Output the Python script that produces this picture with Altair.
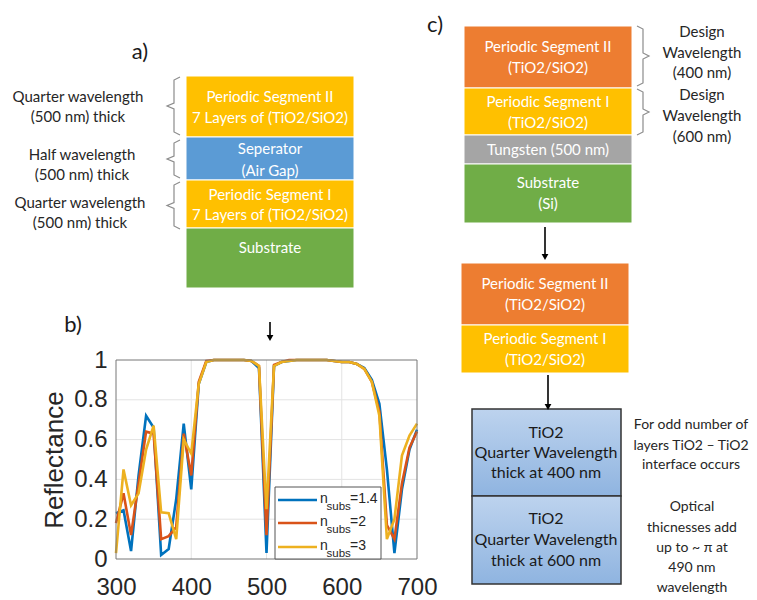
import altair as alt
import pandas as pd

# ---------------- data ----------------
wavelength = [300, 310, 320, 330, 340, 350, 360, 370, 380, 390, 400,
              410, 420, 430, 440, 450, 460, 470, 480, 490, 500,
              510, 520, 530, 540, 550, 560, 570, 580, 590, 600,
              610, 620, 630, 640, 650, 660, 670, 680, 690, 700]
r_n14 = [0.23, 0.245, 0.04, 0.42, 0.72, 0.66, 0.02, 0.05, 0.30, 0.68, 0.35,
         0.88, 0.99, 1.0, 1.0, 1.0, 1.0, 1.0, 0.995, 0.96, 0.03,
         0.97, 0.99, 0.995, 1.0, 1.0, 1.0, 1.0, 1.0, 0.995, 0.99,
         0.99, 0.98, 0.96, 0.90, 0.78, 0.45, 0.03, 0.35, 0.55, 0.65]
r_n2 = [0.18, 0.33, 0.12, 0.38, 0.64, 0.63, 0.10, 0.115, 0.16, 0.63, 0.42,
        0.89, 0.995, 1.0, 1.0, 1.0, 1.0, 1.0, 0.995, 0.97, 0.12,
        0.975, 0.99, 1.0, 1.0, 1.0, 1.0, 1.0, 1.0, 0.995, 0.99,
        0.99, 0.98, 0.955, 0.89, 0.74, 0.17, 0.10, 0.38, 0.56, 0.64]
r_n3 = [0.03, 0.45, 0.27, 0.33, 0.55, 0.67, 0.235, 0.23, 0.10, 0.60, 0.53,
        0.88, 0.99, 1.0, 1.0, 1.0, 1.0, 1.0, 0.995, 0.97, 0.25,
        0.97, 0.99, 0.995, 1.0, 1.0, 1.0, 1.0, 1.0, 0.995, 0.99,
        0.99, 0.98, 0.955, 0.89, 0.72, 0.10, 0.20, 0.52, 0.62, 0.68]
series_names = ["1.4", "2", "3"]
series_values = [r_n14, r_n2, r_n3]
series_colors = ["#0072BD", "#D95319", "#EDB120"]
x_ticks = [300, 400, 500, 600, 700]
y_ticks = [0, 0.2, 0.4, 0.6, 0.8, 1]
x_grid = [400, 500, 600]
y_grid = [0.2, 0.4, 0.6, 0.8]

# ---------------- layout (reference pixel coordinates) ----------------
W, H = 741, 592
CX = alt.Scale(domain=[8, 8 + W], range=[0, W], nice=False, zero=False)
CY = alt.Scale(domain=[8, 8 + H], range=[0, H], nice=False, zero=False)
PX = alt.Scale(domain=[300, 700], range=[108, 409], nice=False, zero=False)
PY = alt.Scale(domain=[0, 1], range=[551, 352], nice=False, zero=False)

BOXFONT = "Lato"
PLOTFONT = "Liberation Sans"

boxes = pd.DataFrame([
    (186, 354, 76, 137, "#FFC000"), (186, 354, 137, 180, "#5B9BD5"),
    (186, 354, 180, 228, "#FFC000"), (186, 354, 228, 288, "#70AD47"),
    (464, 632, 26, 88, "#ED7D31"), (464, 632, 88, 135, "#FFC000"),
    (464, 632, 135, 164, "#A5A5A5"), (464, 632, 164, 223, "#70AD47"),
    (461, 629, 263, 325, "#ED7D31"), (461, 629, 325, 373, "#FFC000"),
], columns=["x", "x2", "y", "y2", "fill"])

blue_boxes = pd.DataFrame([(472, 621, 409, 496), (472, 621, 496, 584)],
                          columns=["x", "x2", "y", "y2"])

white_text = pd.DataFrame([
    ("Periodic Segment II", 270, 97), ("7 Layers of (TiO2/SiO2)", 270, 118),
    ("Seperator", 270, 149), ("(Air Gap)", 270, 171),
    ("Periodic Segment I", 270, 195), ("7 Layers of (TiO2/SiO2)", 270, 215),
    ("Substrate", 270, 248),
    ("Periodic Segment II", 548, 47), ("(TiO2/SiO2)", 548, 68),
    ("Periodic Segment I", 548, 102), ("(TiO2/SiO2)", 548, 123),
    ("Tungsten (500 nm)", 548, 150), ("Substrate", 548, 183), ("(Si)", 548, 204),
    ("Periodic Segment II", 545, 284), ("(TiO2/SiO2)", 545, 305),
    ("Periodic Segment I", 545, 339), ("(TiO2/SiO2)", 545, 360),
], columns=["t", "x", "y"])

dark_text = pd.DataFrame([
    ("Quarter wavelength", 78, 97), ("(500 nm) thick", 78, 117),
    ("Half wavelength", 82, 155), ("(500 nm) thick", 82, 175),
    ("Quarter wavelength", 80, 203), ("(500 nm) thick", 80, 223),
    ("Design", 702, 32), ("Wavelength", 702, 53), ("(400 nm)", 702, 73),
    ("Design", 702, 95), ("Wavelength", 702, 116), ("(600 nm)", 702, 137),
], columns=["t", "x", "y"])

note_text = pd.DataFrame([
    ("For odd number of", 691, 425), ("layers TiO2 \u2013 TiO2", 691, 446),
    ("interface occurs", 691, 465), ("Optical", 692, 507),
    ("thicnesses add", 692, 528), ("up to ~ \u03c0 at", 692, 548),
    ("490 nm", 692, 568), ("wavelength", 692, 588),
], columns=["t", "x", "y"])

blue_text = pd.DataFrame([
    ("TiO2", 546, 433), ("Quarter Wavelength", 546, 453), ("thick at 400 nm", 546, 473),
    ("TiO2", 546, 519), ("Quarter Wavelength", 546, 540), ("thick at 600 nm", 546, 561),
], columns=["t", "x", "y"])

panel_labels = pd.DataFrame([("a)", 140, 52), ("b)", 73, 325), ("c)", 435, 25)],
                            columns=["t", "x", "y"])

# braces: (x_open, x_spine, x_tip, top, bottom)
brace_specs = [
    (180, 174, 167, 77, 135), (180, 174, 167, 140, 178), (180, 174, 167, 182, 229),
    (637, 643, 649, 26, 86), (637, 643, 649, 89, 135),
]
brace_rows = []
for i, (xo, xs, xt, top, bot) in enumerate(brace_specs):
    mid = (top + bot) / 2
    pts = [(xo, top), (xs, top + 3), (xs, mid - 3), (xt, mid),
           (xs, mid + 3), (xs, bot - 3), (xo, bot)]
    for k, (px_, py_) in enumerate(pts):
        brace_rows.append({"b": i, "k": k, "x": px_, "y": py_})
braces = pd.DataFrame(brace_rows)

arrows = pd.DataFrame([(270, 322, 338), (545, 227, 257), (548, 375, 407)],
                      columns=["x", "y", "y2"])


def cx(field="x"):
    return alt.X(f"{field}:Q", scale=CX, axis=None)


def cy(field="y"):
    return alt.Y(f"{field}:Q", scale=CY, axis=None)


rects = alt.Chart(boxes).mark_rect(stroke="white", strokeWidth=1).encode(
    x=cx(), x2="x2", y=cy(), y2="y2", color=alt.Color("fill:N", scale=None))

grad = alt.Gradient(gradient="linear",
                    stops=[alt.GradientStop(color="#bdd3ee", offset=0),
                           alt.GradientStop(color="#8fb4e0", offset=1)],
                    x1=0, x2=0, y1=0, y2=1)
blue_rects = alt.Chart(blue_boxes).mark_rect(fill=grad, stroke="#333333", strokeWidth=1.5).encode(
    x=cx(), x2="x2", y=cy(), y2="y2")

t_white = alt.Chart(white_text).mark_text(font=BOXFONT, fontSize=15, color="white",
                                          baseline="middle", align="center").encode(
    x=cx(), y=cy(), text="t:N")
t_dark = alt.Chart(dark_text).mark_text(font=BOXFONT, fontSize=15, color="#262626",
                                        baseline="middle", align="center").encode(
    x=cx(), y=cy(), text="t:N")
t_note = alt.Chart(note_text).mark_text(font=BOXFONT, fontSize=14, color="#262626",
                                        baseline="middle", align="center").encode(
    x=cx(), y=cy(), text="t:N")
t_blue = alt.Chart(blue_text).mark_text(font=BOXFONT, fontSize=16, color="#1a1a1a",
                                        baseline="middle", align="center").encode(
    x=cx(), y=cy(), text="t:N")
t_panel = alt.Chart(panel_labels).mark_text(font=BOXFONT, fontSize=22, color="#1a1a1a",
                                            baseline="middle", align="center").encode(
    x=cx(), y=cy(), text="t:N")

brace_lines = alt.Chart(braces).mark_line(color="#8c8c8c", strokeWidth=1.2).encode(
    x=cx(), y=cy(), detail="b:N", order="k:Q")

arrow_shafts = alt.Chart(arrows).mark_rule(color="black", strokeWidth=1.6).encode(
    x=cx(), y=cy(), y2="y2")
arrow_heads = alt.Chart(arrows).mark_point(shape="triangle-down", filled=True,
                                           color="black", size=45, opacity=1).encode(
    x=cx(), y=cy("y2"))

ylabel = alt.Chart(pd.DataFrame([{"t": "Reflectance", "x": 55, "y": 460}])).mark_text(
    font=PLOTFONT, fontSize=26, color="#262626", angle=270,
    baseline="middle", align="center").encode(x=cx(), y=cy(), text="t:N")

canvas_back = alt.layer(rects, blue_rects, brace_lines, arrow_shafts, arrow_heads,
                        t_white, t_dark, t_note, t_blue, t_panel, ylabel)

# ---------------- plot (b) ----------------
xaxis = alt.Axis(orient="bottom", offset=-41, values=x_ticks, format="d", title=None,
                 grid=False, ticks=False, tickSize=0, domain=False, labelFlush=False,
                 labelFont=PLOTFONT, labelFontSize=24, labelColor="#262626",
                 labelPadding=16, labelBaseline="top")
yaxis = alt.Axis(orient="left", offset=-108, values=y_ticks, format=".1~f", title=None,
                 grid=False, ticks=False, tickSize=0, domain=False, labelFlush=False,
                 labelFont=PLOTFONT, labelFontSize=24, labelColor="#262626",
                 labelPadding=9)


def px(field):
    return alt.X(f"{field}:Q", scale=PX, axis=xaxis)


def py(field):
    return alt.Y(f"{field}:Q", scale=PY, axis=yaxis)


gx = pd.DataFrame({"x": x_grid, "y": [0] * len(x_grid), "y2": [1] * len(x_grid)})
gy = pd.DataFrame({"y": y_grid, "x": [300] * len(y_grid), "x2": [700] * len(y_grid)})
grid_x = alt.Chart(gx).mark_rule(color="#e3e3e3", strokeWidth=1).encode(
    x=px("x"), y=py("y"), y2="y2")
grid_y = alt.Chart(gy).mark_rule(color="#e3e3e3", strokeWidth=1).encode(
    y=py("y"), x=px("x"), x2="x2")

line_layers = []
for name, vals, col in zip(series_names, series_values, series_colors):
    df = pd.DataFrame({"wl": wavelength, "r": vals})
    line_layers.append(alt.Chart(df).mark_line(color=col, strokeWidth=2.6).encode(
        x=px("wl"), y=py("r")))

frame = alt.Chart(pd.DataFrame([{"x": 300, "x2": 700, "y": 0, "y2": 1}])).mark_rect(
    fill=None, stroke="#777777", strokeWidth=1).encode(
    x=px("x"), x2="x2", y=py("y"), y2="y2")

plot = alt.layer(grid_x, grid_y, *line_layers, frame)

# ---------------- legend (drawn in canvas coordinates) ----------------
leg_box = alt.Chart(pd.DataFrame([{"x": 275, "x2": 381, "y": 487, "y2": 559}])).mark_rect(
    fill="white", stroke="#555555", strokeWidth=1).encode(x=cx(), x2="x2", y=cy(), y2="y2")
leg_rows = pd.DataFrame({"name": series_names, "col": series_colors,
                         "y": [500, 523, 547]})
leg_lines = alt.Chart(leg_rows).mark_rule(strokeWidth=2.6).encode(
    x=alt.X("x0:Q", scale=CX, axis=None), x2="x1:Q", y=cy(),
    color=alt.Color("col:N", scale=None)).transform_calculate(x0="278", x1="317")
leg_n = alt.Chart(leg_rows).mark_text(font=PLOTFONT, fontSize=14, color="#262626",
                                      align="left", baseline="alphabetic").encode(
    x=alt.X("xn:Q", scale=CX, axis=None), y=cy("yb"), text=alt.value("n")).transform_calculate(
    xn="320", yb="datum.y + 3")
leg_sub = alt.Chart(leg_rows).mark_text(font=PLOTFONT, fontSize=11.5, color="#262626",
                                        align="left", baseline="alphabetic").encode(
    x=alt.X("xs:Q", scale=CX, axis=None), y=cy("yb"), text=alt.value("subs")).transform_calculate(
    xs="326.5", yb="datum.y + 9.5")
leg_val = alt.Chart(leg_rows).mark_text(font=PLOTFONT, fontSize=14, color="#262626",
                                        align="left", baseline="alphabetic").encode(
    x=alt.X("xv:Q", scale=CX, axis=None), y=cy("yb"), text="lab:N").transform_calculate(
    xv="350", yb="datum.y + 3", lab="'=' + datum.name")

canvas_front = alt.layer(leg_box, leg_lines, leg_n, leg_sub, leg_val)

chart = alt.layer(canvas_back, plot, canvas_front).resolve_scale(
    x="independent", y="independent").properties(
    width=W, height=H, autosize=alt.AutoSizeParams(type="none"), padding=0,
    background="white").configure_view(stroke=None)

chart.save("out.html", embed_options={"renderer": "svg", "actions": False})
